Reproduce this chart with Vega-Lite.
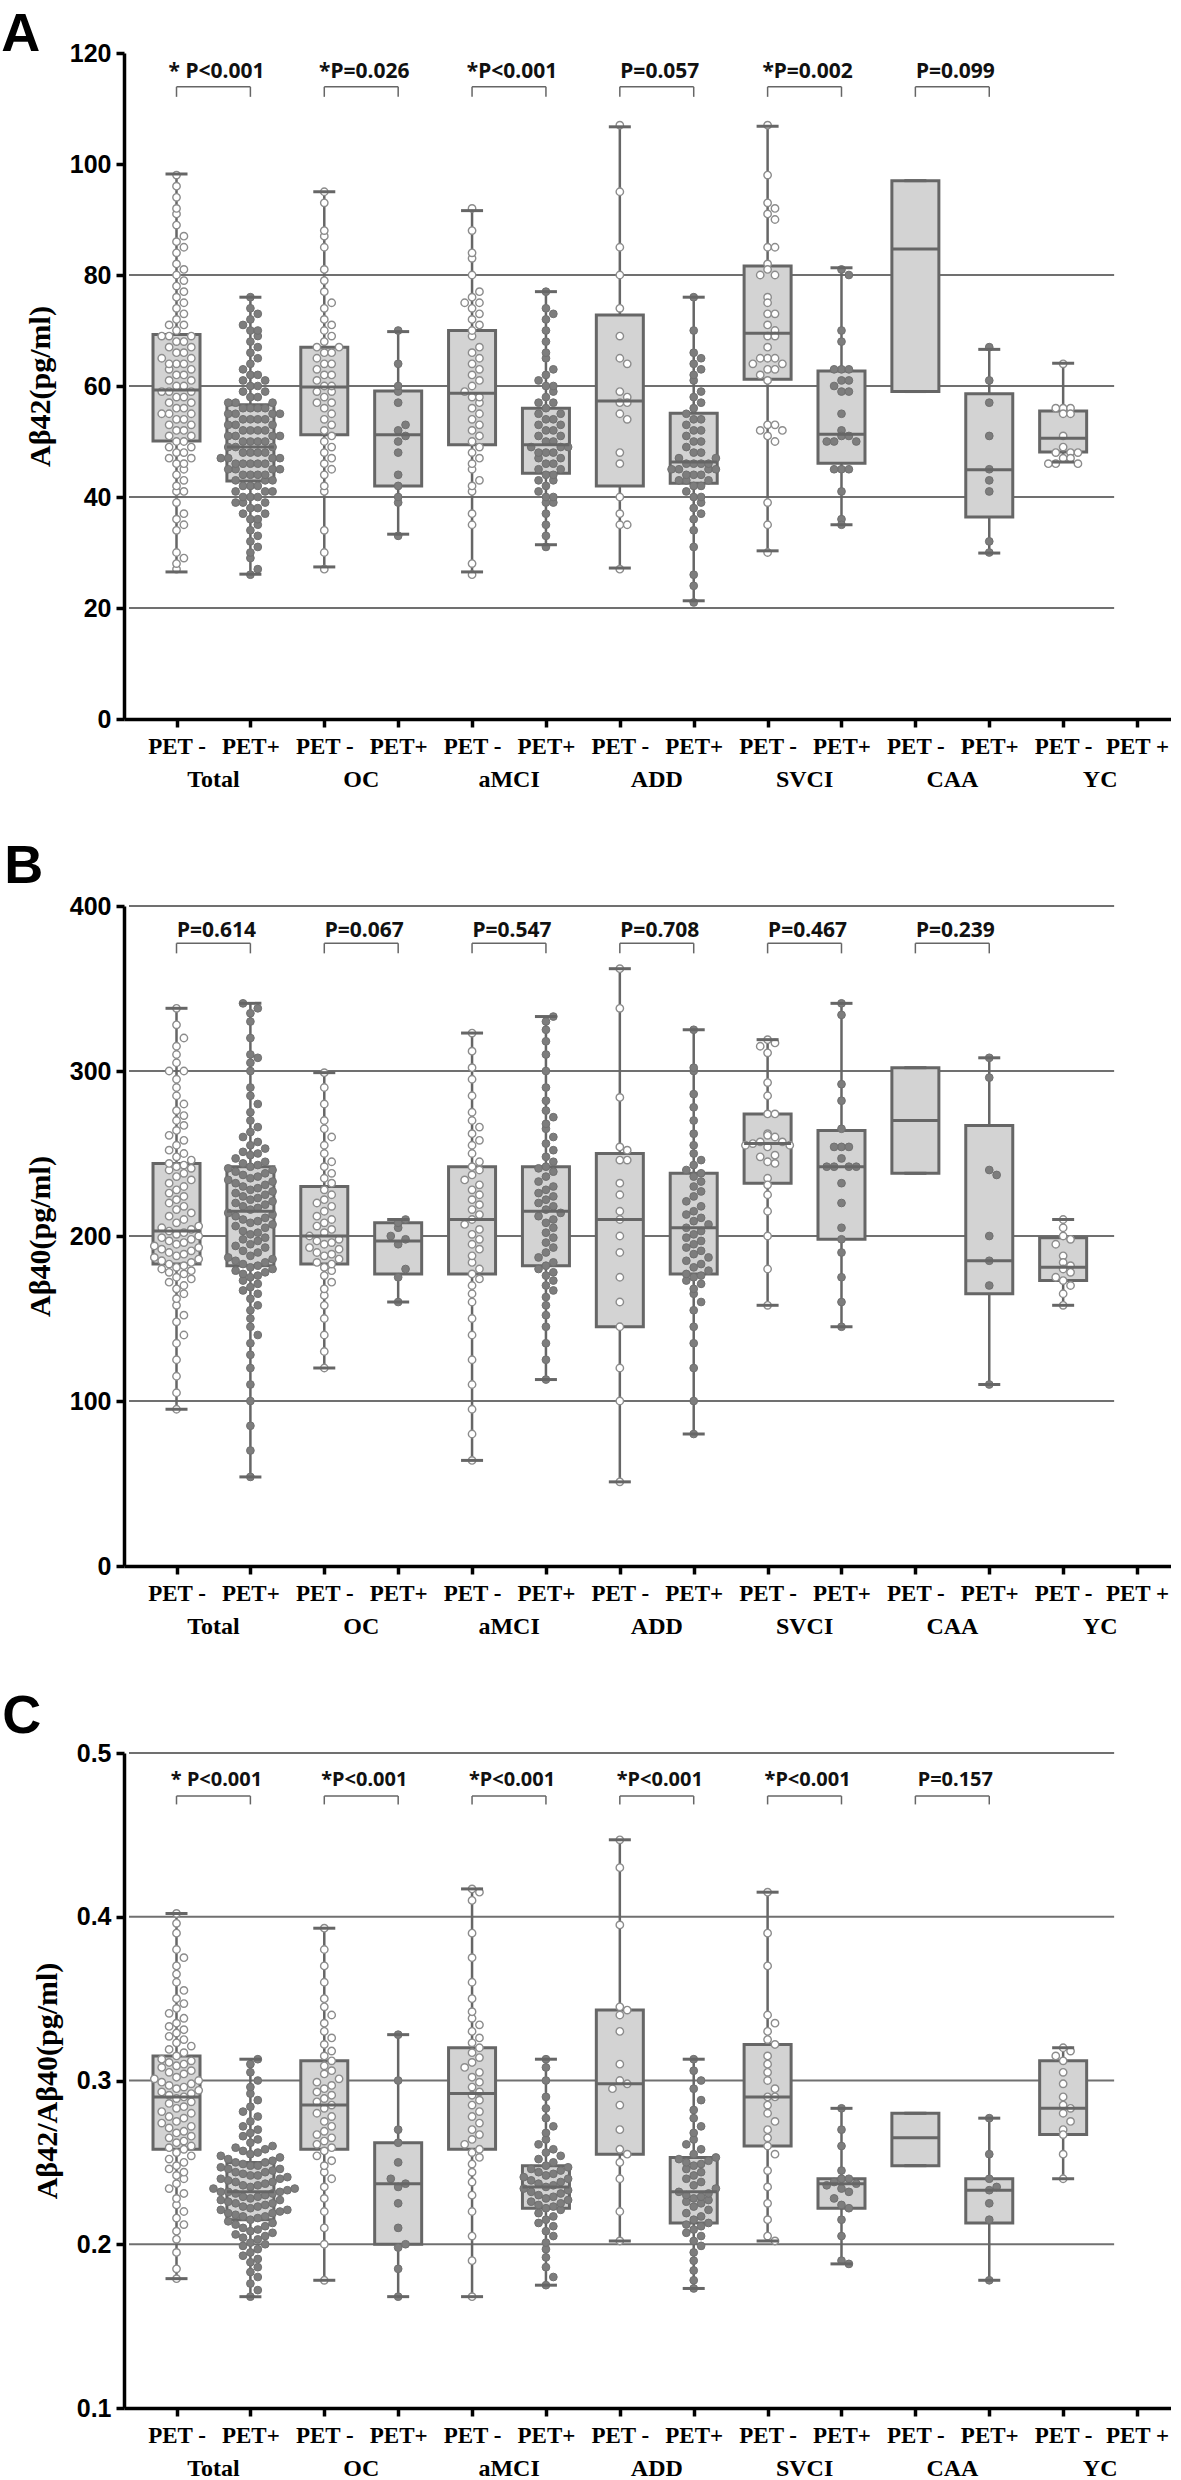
{
"$schema":"https://vega.github.io/schema/vega-lite/v6.json",
"background":"white",
"padding":{"left":1,"top":8,"right":0,"bottom":0},
"spacing":187,
"bounds":"flush",
"config":{
"view":{"stroke":null},
"axis":{"grid":false,"domainColor":"black","domainWidth":3.5,"tickColor":"black","tickWidth":3.5,"tickSize":8},
"axisX":{"labelFont":"Liberation Serif","labelFontSize":23,"labelFontWeight":"bold","labelPadding":8,"labelFlush":false,"labelOverlap":false,"labelColor":"black"},
"axisY":{"labelFont":"Liberation Sans","labelFontSize":25,"labelFontWeight":"bold","labelPadding":5,"titleFont":"Liberation Serif","titleFontSize":30,"titleFontWeight":"bold","titlePadding":14,"labelColor":"black","titleColor":"black"}
},
"datasets":{
"grp":[{"a":0,"g":"Total"},{"a":2,"g":"OC"},{"a":4,"g":"aMCI"},{"a":6,"g":"ADD"},{"a":8,"g":"SVCI"},{"a":10,"g":"CAA"},{"a":12,"g":"YC"}],
"nA":[{"a":0,"b":1,"t":"* P<0.001"},{"a":2,"b":3,"t":"*P=0.026"},{"a":4,"b":5,"t":"*P<0.001"},{"a":6,"b":7,"t":"P=0.057"},{"a":8,"b":9,"t":"*P=0.002"},{"a":10,"b":11,"t":"P=0.099"}],
"nB":[{"a":0,"b":1,"t":"P=0.614"},{"a":2,"b":3,"t":"P=0.067"},{"a":4,"b":5,"t":"P=0.547"},{"a":6,"b":7,"t":"P=0.708"},{"a":8,"b":9,"t":"P=0.467"},{"a":10,"b":11,"t":"P=0.239"}],
"nC":[{"a":0,"b":1,"t":"* P<0.001"},{"a":2,"b":3,"t":"*P<0.001"},{"a":4,"b":5,"t":"*P<0.001"},{"a":6,"b":7,"t":"*P<0.001"},{"a":8,"b":9,"t":"*P<0.001"},{"a":10,"b":11,"t":"P=0.157"}],
"bA":[{"c":0,"mn":26.5,"q1":50.1,"md":59.3,"q3":69.3,"mx":98.2},{"c":1,"mn":26.1,"q1":42.9,"md":49,"q3":56.6,"mx":76},{"c":2,"mn":27.4,"q1":51.2,"md":59.8,"q3":67,"mx":95},{"c":3,"mn":33.3,"q1":42,"md":51.2,"q3":59.1,"mx":69.8},{"c":4,"mn":26.5,"q1":49.4,"md":58.7,"q3":70,"mx":91.6},{"c":5,"mn":31.4,"q1":44.3,"md":49.4,"q3":56,"mx":77},{"c":6,"mn":27.2,"q1":42,"md":57.3,"q3":72.8,"mx":106.7},{"c":7,"mn":21.3,"q1":42.5,"md":46.3,"q3":55.1,"mx":76},{"c":8,"mn":30.3,"q1":61.2,"md":69.5,"q3":81.6,"mx":106.8},{"c":9,"mn":35,"q1":46.1,"md":51.3,"q3":62.7,"mx":81.3},{"c":10,"mn":59,"q1":59,"md":84.7,"q3":97,"mx":97},{"c":11,"mn":29.9,"q1":36.4,"md":44.9,"q3":58.6,"mx":66.6},{"c":12,"mn":46.3,"q1":48.1,"md":50.6,"q3":55.5,"mx":64.1}],
"bB":[{"c":0,"mn":95,"q1":183,"md":203,"q3":244,"mx":338},{"c":1,"mn":54,"q1":182,"md":215,"q3":242,"mx":341},{"c":2,"mn":120,"q1":183,"md":200,"q3":230,"mx":299},{"c":3,"mn":160,"q1":177,"md":197,"q3":208,"mx":210},{"c":4,"mn":64,"q1":177,"md":210,"q3":242,"mx":323},{"c":5,"mn":113,"q1":182,"md":215,"q3":242,"mx":333},{"c":6,"mn":51,"q1":145,"md":210,"q3":250,"mx":362},{"c":7,"mn":80,"q1":177,"md":205,"q3":238,"mx":325},{"c":8,"mn":158,"q1":232,"md":256,"q3":274,"mx":319},{"c":9,"mn":145,"q1":198,"md":242,"q3":264,"mx":341},{"c":10,"mn":238,"q1":238,"md":270,"q3":302,"mx":302},{"c":11,"mn":110,"q1":165,"md":185,"q3":267,"mx":308},{"c":12,"mn":158,"q1":173,"md":181,"q3":199,"mx":210}],
"bC":[{"c":0,"mn":0.179,"q1":0.258,"md":0.29,"q3":0.315,"mx":0.402},{"c":1,"mn":0.168,"q1":0.215,"md":0.232,"q3":0.25,"mx":0.313},{"c":2,"mn":0.178,"q1":0.258,"md":0.285,"q3":0.312,"mx":0.393},{"c":3,"mn":0.168,"q1":0.2,"md":0.237,"q3":0.262,"mx":0.328},{"c":4,"mn":0.168,"q1":0.258,"md":0.292,"q3":0.32,"mx":0.417},{"c":5,"mn":0.175,"q1":0.222,"md":0.235,"q3":0.248,"mx":0.313},{"c":6,"mn":0.202,"q1":0.255,"md":0.298,"q3":0.343,"mx":0.447},{"c":7,"mn":0.173,"q1":0.213,"md":0.232,"q3":0.253,"mx":0.313},{"c":8,"mn":0.202,"q1":0.26,"md":0.29,"q3":0.322,"mx":0.415},{"c":9,"mn":0.188,"q1":0.222,"md":0.237,"q3":0.24,"mx":0.283},{"c":10,"mn":0.248,"q1":0.248,"md":0.265,"q3":0.28,"mx":0.28},{"c":11,"mn":0.178,"q1":0.213,"md":0.233,"q3":0.24,"mx":0.277},{"c":12,"mn":0.24,"q1":0.267,"md":0.283,"q3":0.312,"mx":0.32}],
"pA":[
{"c":0,"v":27},{"c":0,"v":28},{"c":0,"v":29},{"c":0,"v":30},{"c":0,"v":34},{"c":0,"v":35},{"c":0,"v":36},{"c":0,"v":37},{"c":0,"v":39},{"c":0,"v":41},{"c":0,"v":41},{"c":0,"v":42},{"c":0,"v":43},{"c":0,"v":44},{"c":0,"v":45},{"c":0,"v":46},{"c":0,"v":46},{"c":0,"v":47},{"c":0,"v":47},{"c":0,"v":48},{"c":0,"v":48},{"c":0,"v":49},{"c":0,"v":49},{"c":0,"v":50},{"c":0,"v":50},{"c":0,"v":51},{"c":0,"v":51},{"c":0,"v":52},{"c":0,"v":52},{"c":0,"v":53},{"c":0,"v":53},{"c":0,"v":54},{"c":0,"v":54},{"c":0,"v":55},{"c":0,"v":55},{"c":0,"v":55},{"c":0,"v":56},{"c":0,"v":56},{"c":0,"v":57},{"c":0,"v":57},{"c":0,"v":58},{"c":0,"v":58},{"c":0,"v":59},{"c":0,"v":59},{"c":0,"v":59},{"c":0,"v":60},{"c":0,"v":60},{"c":0,"v":61},{"c":0,"v":61},{"c":0,"v":62},{"c":0,"v":62},{"c":0,"v":63},{"c":0,"v":63},{"c":0,"v":64},{"c":0,"v":64},{"c":0,"v":64},{"c":0,"v":65},{"c":0,"v":65},{"c":0,"v":66},{"c":0,"v":66},{"c":0,"v":67},{"c":0,"v":67},{"c":0,"v":68},{"c":0,"v":68},{"c":0,"v":69},{"c":0,"v":69},{"c":0,"v":69},{"c":0,"v":70},{"c":0,"v":71},{"c":0,"v":71},{"c":0,"v":72},{"c":0,"v":73},{"c":0,"v":74},{"c":0,"v":75},{"c":0,"v":76},{"c":0,"v":77},{"c":0,"v":78},{"c":0,"v":79},{"c":0,"v":80},{"c":0,"v":81},{"c":0,"v":82},{"c":0,"v":84},{"c":0,"v":85},{"c":0,"v":86},{"c":0,"v":87},{"c":0,"v":89},{"c":0,"v":91},{"c":0,"v":92},{"c":0,"v":94},{"c":0,"v":96},{"c":0,"v":98},
{"c":1,"v":26},{"c":1,"v":27},{"c":1,"v":29},{"c":1,"v":30},{"c":1,"v":31},{"c":1,"v":32},{"c":1,"v":33},{"c":1,"v":34},{"c":1,"v":35},{"c":1,"v":36},{"c":1,"v":36},{"c":1,"v":37},{"c":1,"v":37},{"c":1,"v":38},{"c":1,"v":38},{"c":1,"v":39},{"c":1,"v":39},{"c":1,"v":39},{"c":1,"v":40},{"c":1,"v":40},{"c":1,"v":40},{"c":1,"v":41},{"c":1,"v":41},{"c":1,"v":41},{"c":1,"v":42},{"c":1,"v":42},{"c":1,"v":42},{"c":1,"v":43},{"c":1,"v":43},{"c":1,"v":43},{"c":1,"v":44},{"c":1,"v":44},{"c":1,"v":44},{"c":1,"v":44},{"c":1,"v":45},{"c":1,"v":45},{"c":1,"v":45},{"c":1,"v":45},{"c":1,"v":46},{"c":1,"v":46},{"c":1,"v":46},{"c":1,"v":46},{"c":1,"v":46},{"c":1,"v":47},{"c":1,"v":47},{"c":1,"v":47},{"c":1,"v":47},{"c":1,"v":48},{"c":1,"v":48},{"c":1,"v":48},{"c":1,"v":48},{"c":1,"v":49},{"c":1,"v":49},{"c":1,"v":49},{"c":1,"v":50},{"c":1,"v":50},{"c":1,"v":50},{"c":1,"v":50},{"c":1,"v":51},{"c":1,"v":51},{"c":1,"v":51},{"c":1,"v":51},{"c":1,"v":52},{"c":1,"v":52},{"c":1,"v":52},{"c":1,"v":52},{"c":1,"v":53},{"c":1,"v":53},{"c":1,"v":53},{"c":1,"v":54},{"c":1,"v":54},{"c":1,"v":54},{"c":1,"v":54},{"c":1,"v":55},{"c":1,"v":55},{"c":1,"v":55},{"c":1,"v":55},{"c":1,"v":56},{"c":1,"v":56},{"c":1,"v":56},{"c":1,"v":56},{"c":1,"v":57},{"c":1,"v":57},{"c":1,"v":57},{"c":1,"v":58},{"c":1,"v":58},{"c":1,"v":59},{"c":1,"v":59},{"c":1,"v":60},{"c":1,"v":60},{"c":1,"v":61},{"c":1,"v":61},{"c":1,"v":62},{"c":1,"v":62},{"c":1,"v":63},{"c":1,"v":64},{"c":1,"v":65},{"c":1,"v":66},{"c":1,"v":67},{"c":1,"v":68},{"c":1,"v":69},{"c":1,"v":70},{"c":1,"v":70},{"c":1,"v":71},{"c":1,"v":72},{"c":1,"v":73},{"c":1,"v":74},{"c":1,"v":76},
{"c":2,"v":27},{"c":2,"v":30},{"c":2,"v":34},{"c":2,"v":41},{"c":2,"v":42},{"c":2,"v":44},{"c":2,"v":45},{"c":2,"v":46},{"c":2,"v":47},{"c":2,"v":48},{"c":2,"v":49},{"c":2,"v":50},{"c":2,"v":51},{"c":2,"v":52},{"c":2,"v":53},{"c":2,"v":54},{"c":2,"v":55},{"c":2,"v":56},{"c":2,"v":57},{"c":2,"v":57},{"c":2,"v":58},{"c":2,"v":59},{"c":2,"v":59},{"c":2,"v":60},{"c":2,"v":60},{"c":2,"v":61},{"c":2,"v":62},{"c":2,"v":62},{"c":2,"v":63},{"c":2,"v":64},{"c":2,"v":64},{"c":2,"v":65},{"c":2,"v":66},{"c":2,"v":66},{"c":2,"v":67},{"c":2,"v":67},{"c":2,"v":68},{"c":2,"v":69},{"c":2,"v":70},{"c":2,"v":71},{"c":2,"v":72},{"c":2,"v":74},{"c":2,"v":75},{"c":2,"v":77},{"c":2,"v":79},{"c":2,"v":81},{"c":2,"v":85},{"c":2,"v":87},{"c":2,"v":88},{"c":2,"v":93},{"c":2,"v":95},
{"c":3,"v":33},{"c":3,"v":39},{"c":3,"v":40},{"c":3,"v":42},{"c":3,"v":44},{"c":3,"v":48},{"c":3,"v":50},{"c":3,"v":51},{"c":3,"v":52},{"c":3,"v":53},{"c":3,"v":57},{"c":3,"v":59},{"c":3,"v":60},{"c":3,"v":64},{"c":3,"v":70},
{"c":4,"v":26},{"c":4,"v":28},{"c":4,"v":35},{"c":4,"v":37},{"c":4,"v":41},{"c":4,"v":42},{"c":4,"v":43},{"c":4,"v":45},{"c":4,"v":46},{"c":4,"v":47},{"c":4,"v":48},{"c":4,"v":49},{"c":4,"v":50},{"c":4,"v":51},{"c":4,"v":52},{"c":4,"v":53},{"c":4,"v":54},{"c":4,"v":55},{"c":4,"v":56},{"c":4,"v":57},{"c":4,"v":58},{"c":4,"v":58},{"c":4,"v":59},{"c":4,"v":60},{"c":4,"v":61},{"c":4,"v":62},{"c":4,"v":63},{"c":4,"v":64},{"c":4,"v":65},{"c":4,"v":66},{"c":4,"v":67},{"c":4,"v":69},{"c":4,"v":70},{"c":4,"v":71},{"c":4,"v":72},{"c":4,"v":73},{"c":4,"v":74},{"c":4,"v":75},{"c":4,"v":75},{"c":4,"v":76},{"c":4,"v":77},{"c":4,"v":80},{"c":4,"v":83},{"c":4,"v":84},{"c":4,"v":88},{"c":4,"v":92},
{"c":5,"v":31},{"c":5,"v":33},{"c":5,"v":35},{"c":5,"v":37},{"c":5,"v":39},{"c":5,"v":39},{"c":5,"v":40},{"c":5,"v":40},{"c":5,"v":41},{"c":5,"v":42},{"c":5,"v":43},{"c":5,"v":43},{"c":5,"v":44},{"c":5,"v":44},{"c":5,"v":45},{"c":5,"v":45},{"c":5,"v":46},{"c":5,"v":46},{"c":5,"v":47},{"c":5,"v":47},{"c":5,"v":48},{"c":5,"v":48},{"c":5,"v":48},{"c":5,"v":49},{"c":5,"v":49},{"c":5,"v":49},{"c":5,"v":50},{"c":5,"v":50},{"c":5,"v":51},{"c":5,"v":51},{"c":5,"v":52},{"c":5,"v":52},{"c":5,"v":53},{"c":5,"v":53},{"c":5,"v":54},{"c":5,"v":54},{"c":5,"v":55},{"c":5,"v":55},{"c":5,"v":56},{"c":5,"v":57},{"c":5,"v":57},{"c":5,"v":58},{"c":5,"v":59},{"c":5,"v":60},{"c":5,"v":60},{"c":5,"v":61},{"c":5,"v":62},{"c":5,"v":63},{"c":5,"v":65},{"c":5,"v":66},{"c":5,"v":68},{"c":5,"v":70},{"c":5,"v":72},{"c":5,"v":73},{"c":5,"v":74},{"c":5,"v":77},
{"c":6,"v":107},{"c":6,"v":95},{"c":6,"v":85},{"c":6,"v":80},{"c":6,"v":74},{"c":6,"v":69},{"c":6,"v":65},{"c":6,"v":64},{"c":6,"v":59},{"c":6,"v":58},{"c":6,"v":57},{"c":6,"v":57},{"c":6,"v":55},{"c":6,"v":54},{"c":6,"v":48},{"c":6,"v":46},{"c":6,"v":40},{"c":6,"v":37},{"c":6,"v":35},{"c":6,"v":35},{"c":6,"v":27},
{"c":7,"v":21},{"c":7,"v":24},{"c":7,"v":26},{"c":7,"v":31},{"c":7,"v":34},{"c":7,"v":36},{"c":7,"v":37},{"c":7,"v":38},{"c":7,"v":39},{"c":7,"v":40},{"c":7,"v":40},{"c":7,"v":41},{"c":7,"v":42},{"c":7,"v":42},{"c":7,"v":43},{"c":7,"v":43},{"c":7,"v":43},{"c":7,"v":44},{"c":7,"v":44},{"c":7,"v":44},{"c":7,"v":45},{"c":7,"v":45},{"c":7,"v":45},{"c":7,"v":45},{"c":7,"v":46},{"c":7,"v":46},{"c":7,"v":46},{"c":7,"v":46},{"c":7,"v":47},{"c":7,"v":47},{"c":7,"v":48},{"c":7,"v":48},{"c":7,"v":49},{"c":7,"v":50},{"c":7,"v":50},{"c":7,"v":51},{"c":7,"v":52},{"c":7,"v":52},{"c":7,"v":53},{"c":7,"v":54},{"c":7,"v":54},{"c":7,"v":55},{"c":7,"v":56},{"c":7,"v":57},{"c":7,"v":58},{"c":7,"v":59},{"c":7,"v":61},{"c":7,"v":62},{"c":7,"v":63},{"c":7,"v":64},{"c":7,"v":65},{"c":7,"v":66},{"c":7,"v":70},{"c":7,"v":76},
{"c":8,"v":107},{"c":8,"v":98},{"c":8,"v":93},{"c":8,"v":92},{"c":8,"v":91},{"c":8,"v":90},{"c":8,"v":85},{"c":8,"v":85},{"c":8,"v":82},{"c":8,"v":81},{"c":8,"v":80},{"c":8,"v":80},{"c":8,"v":76},{"c":8,"v":75},{"c":8,"v":73},{"c":8,"v":73},{"c":8,"v":71},{"c":8,"v":70},{"c":8,"v":69},{"c":8,"v":69},{"c":8,"v":67},{"c":8,"v":65},{"c":8,"v":65},{"c":8,"v":65},{"c":8,"v":64},{"c":8,"v":64},{"c":8,"v":63},{"c":8,"v":63},{"c":8,"v":62},{"c":8,"v":61},{"c":8,"v":53},{"c":8,"v":53},{"c":8,"v":52},{"c":8,"v":52},{"c":8,"v":51},{"c":8,"v":50},{"c":8,"v":39},{"c":8,"v":35},{"c":8,"v":30},
{"c":9,"v":81},{"c":9,"v":80},{"c":9,"v":70},{"c":9,"v":68},{"c":9,"v":63},{"c":9,"v":63},{"c":9,"v":63},{"c":9,"v":61},{"c":9,"v":61},{"c":9,"v":60},{"c":9,"v":59},{"c":9,"v":59},{"c":9,"v":55},{"c":9,"v":52},{"c":9,"v":51},{"c":9,"v":51},{"c":9,"v":50},{"c":9,"v":50},{"c":9,"v":50},{"c":9,"v":45},{"c":9,"v":45},{"c":9,"v":45},{"c":9,"v":41},{"c":9,"v":36},{"c":9,"v":35},
{"c":11,"v":67},{"c":11,"v":61},{"c":11,"v":57},{"c":11,"v":51},{"c":11,"v":45},{"c":11,"v":43},{"c":11,"v":41},{"c":11,"v":32},{"c":11,"v":30},
{"c":12,"v":64},{"c":12,"v":56},{"c":12,"v":56},{"c":12,"v":56},{"c":12,"v":55},{"c":12,"v":55},{"c":12,"v":51},{"c":12,"v":49},{"c":12,"v":48},{"c":12,"v":48},{"c":12,"v":48},{"c":12,"v":47},{"c":12,"v":47},{"c":12,"v":46},{"c":12,"v":46},{"c":12,"v":46}
],
"pB":[
{"c":0,"v":95},{"c":0,"v":105},{"c":0,"v":115},{"c":0,"v":125},{"c":0,"v":135},{"c":0,"v":140},{"c":0,"v":148},{"c":0,"v":152},{"c":0,"v":158},{"c":0,"v":162},{"c":0,"v":165},{"c":0,"v":168},{"c":0,"v":170},{"c":0,"v":172},{"c":0,"v":174},{"c":0,"v":175},{"c":0,"v":177},{"c":0,"v":178},{"c":0,"v":179},{"c":0,"v":180},{"c":0,"v":181},{"c":0,"v":182},{"c":0,"v":183},{"c":0,"v":184},{"c":0,"v":185},{"c":0,"v":186},{"c":0,"v":187},{"c":0,"v":188},{"c":0,"v":189},{"c":0,"v":190},{"c":0,"v":191},{"c":0,"v":192},{"c":0,"v":193},{"c":0,"v":194},{"c":0,"v":195},{"c":0,"v":196},{"c":0,"v":197},{"c":0,"v":198},{"c":0,"v":199},{"c":0,"v":200},{"c":0,"v":201},{"c":0,"v":202},{"c":0,"v":203},{"c":0,"v":204},{"c":0,"v":205},{"c":0,"v":206},{"c":0,"v":208},{"c":0,"v":210},{"c":0,"v":212},{"c":0,"v":214},{"c":0,"v":216},{"c":0,"v":218},{"c":0,"v":220},{"c":0,"v":222},{"c":0,"v":224},{"c":0,"v":226},{"c":0,"v":228},{"c":0,"v":230},{"c":0,"v":232},{"c":0,"v":234},{"c":0,"v":236},{"c":0,"v":238},{"c":0,"v":240},{"c":0,"v":241},{"c":0,"v":242},{"c":0,"v":243},{"c":0,"v":244},{"c":0,"v":246},{"c":0,"v":248},{"c":0,"v":250},{"c":0,"v":252},{"c":0,"v":255},{"c":0,"v":258},{"c":0,"v":261},{"c":0,"v":264},{"c":0,"v":267},{"c":0,"v":270},{"c":0,"v":273},{"c":0,"v":276},{"c":0,"v":280},{"c":0,"v":285},{"c":0,"v":290},{"c":0,"v":295},{"c":0,"v":300},{"c":0,"v":300},{"c":0,"v":305},{"c":0,"v":310},{"c":0,"v":315},{"c":0,"v":320},{"c":0,"v":328},{"c":0,"v":338},
{"c":1,"v":54},{"c":1,"v":70},{"c":1,"v":85},{"c":1,"v":100},{"c":1,"v":110},{"c":1,"v":120},{"c":1,"v":128},{"c":1,"v":135},{"c":1,"v":140},{"c":1,"v":145},{"c":1,"v":150},{"c":1,"v":155},{"c":1,"v":158},{"c":1,"v":162},{"c":1,"v":165},{"c":1,"v":167},{"c":1,"v":169},{"c":1,"v":171},{"c":1,"v":173},{"c":1,"v":175},{"c":1,"v":176},{"c":1,"v":177},{"c":1,"v":178},{"c":1,"v":179},{"c":1,"v":180},{"c":1,"v":181},{"c":1,"v":182},{"c":1,"v":183},{"c":1,"v":184},{"c":1,"v":185},{"c":1,"v":186},{"c":1,"v":187},{"c":1,"v":188},{"c":1,"v":190},{"c":1,"v":191},{"c":1,"v":193},{"c":1,"v":194},{"c":1,"v":195},{"c":1,"v":197},{"c":1,"v":198},{"c":1,"v":199},{"c":1,"v":201},{"c":1,"v":202},{"c":1,"v":203},{"c":1,"v":205},{"c":1,"v":206},{"c":1,"v":207},{"c":1,"v":208},{"c":1,"v":209},{"c":1,"v":210},{"c":1,"v":211},{"c":1,"v":212},{"c":1,"v":213},{"c":1,"v":214},{"c":1,"v":216},{"c":1,"v":217},{"c":1,"v":218},{"c":1,"v":219},{"c":1,"v":220},{"c":1,"v":221},{"c":1,"v":222},{"c":1,"v":223},{"c":1,"v":224},{"c":1,"v":225},{"c":1,"v":226},{"c":1,"v":227},{"c":1,"v":228},{"c":1,"v":229},{"c":1,"v":230},{"c":1,"v":231},{"c":1,"v":232},{"c":1,"v":233},{"c":1,"v":234},{"c":1,"v":235},{"c":1,"v":236},{"c":1,"v":237},{"c":1,"v":238},{"c":1,"v":239},{"c":1,"v":240},{"c":1,"v":241},{"c":1,"v":242},{"c":1,"v":243},{"c":1,"v":244},{"c":1,"v":245},{"c":1,"v":247},{"c":1,"v":249},{"c":1,"v":250},{"c":1,"v":251},{"c":1,"v":253},{"c":1,"v":255},{"c":1,"v":257},{"c":1,"v":260},{"c":1,"v":263},{"c":1,"v":266},{"c":1,"v":270},{"c":1,"v":275},{"c":1,"v":280},{"c":1,"v":285},{"c":1,"v":290},{"c":1,"v":300},{"c":1,"v":305},{"c":1,"v":308},{"c":1,"v":310},{"c":1,"v":320},{"c":1,"v":330},{"c":1,"v":335},{"c":1,"v":338},{"c":1,"v":341},
{"c":2,"v":120},{"c":2,"v":130},{"c":2,"v":140},{"c":2,"v":150},{"c":2,"v":158},{"c":2,"v":164},{"c":2,"v":168},{"c":2,"v":172},{"c":2,"v":176},{"c":2,"v":179},{"c":2,"v":181},{"c":2,"v":183},{"c":2,"v":184},{"c":2,"v":186},{"c":2,"v":188},{"c":2,"v":189},{"c":2,"v":190},{"c":2,"v":192},{"c":2,"v":193},{"c":2,"v":195},{"c":2,"v":196},{"c":2,"v":197},{"c":2,"v":198},{"c":2,"v":200},{"c":2,"v":202},{"c":2,"v":204},{"c":2,"v":206},{"c":2,"v":208},{"c":2,"v":210},{"c":2,"v":212},{"c":2,"v":215},{"c":2,"v":218},{"c":2,"v":220},{"c":2,"v":222},{"c":2,"v":225},{"c":2,"v":228},{"c":2,"v":232},{"c":2,"v":235},{"c":2,"v":238},{"c":2,"v":242},{"c":2,"v":245},{"c":2,"v":250},{"c":2,"v":255},{"c":2,"v":260},{"c":2,"v":265},{"c":2,"v":270},{"c":2,"v":280},{"c":2,"v":290},{"c":2,"v":299},
{"c":3,"v":160},{"c":3,"v":175},{"c":3,"v":180},{"c":3,"v":195},{"c":3,"v":198},{"c":3,"v":200},{"c":3,"v":205},{"c":3,"v":208},{"c":3,"v":210},
{"c":4,"v":64},{"c":4,"v":80},{"c":4,"v":95},{"c":4,"v":110},{"c":4,"v":125},{"c":4,"v":140},{"c":4,"v":150},{"c":4,"v":160},{"c":4,"v":165},{"c":4,"v":170},{"c":4,"v":174},{"c":4,"v":177},{"c":4,"v":180},{"c":4,"v":184},{"c":4,"v":188},{"c":4,"v":192},{"c":4,"v":195},{"c":4,"v":198},{"c":4,"v":201},{"c":4,"v":204},{"c":4,"v":207},{"c":4,"v":210},{"c":4,"v":213},{"c":4,"v":216},{"c":4,"v":219},{"c":4,"v":222},{"c":4,"v":225},{"c":4,"v":228},{"c":4,"v":231},{"c":4,"v":234},{"c":4,"v":237},{"c":4,"v":240},{"c":4,"v":242},{"c":4,"v":245},{"c":4,"v":250},{"c":4,"v":255},{"c":4,"v":258},{"c":4,"v":262},{"c":4,"v":266},{"c":4,"v":270},{"c":4,"v":275},{"c":4,"v":285},{"c":4,"v":295},{"c":4,"v":302},{"c":4,"v":312},{"c":4,"v":323},
{"c":5,"v":113},{"c":5,"v":125},{"c":5,"v":135},{"c":5,"v":145},{"c":5,"v":152},{"c":5,"v":158},{"c":5,"v":163},{"c":5,"v":167},{"c":5,"v":170},{"c":5,"v":173},{"c":5,"v":176},{"c":5,"v":178},{"c":5,"v":180},{"c":5,"v":182},{"c":5,"v":184},{"c":5,"v":187},{"c":5,"v":190},{"c":5,"v":193},{"c":5,"v":196},{"c":5,"v":199},{"c":5,"v":202},{"c":5,"v":205},{"c":5,"v":208},{"c":5,"v":210},{"c":5,"v":212},{"c":5,"v":214},{"c":5,"v":216},{"c":5,"v":218},{"c":5,"v":220},{"c":5,"v":222},{"c":5,"v":224},{"c":5,"v":226},{"c":5,"v":228},{"c":5,"v":230},{"c":5,"v":233},{"c":5,"v":236},{"c":5,"v":239},{"c":5,"v":241},{"c":5,"v":242},{"c":5,"v":245},{"c":5,"v":248},{"c":5,"v":252},{"c":5,"v":256},{"c":5,"v":260},{"c":5,"v":265},{"c":5,"v":268},{"c":5,"v":272},{"c":5,"v":276},{"c":5,"v":282},{"c":5,"v":290},{"c":5,"v":300},{"c":5,"v":310},{"c":5,"v":318},{"c":5,"v":325},{"c":5,"v":330},{"c":5,"v":333},
{"c":6,"v":362},{"c":6,"v":338},{"c":6,"v":284},{"c":6,"v":254},{"c":6,"v":252},{"c":6,"v":246},{"c":6,"v":246},{"c":6,"v":232},{"c":6,"v":225},{"c":6,"v":215},{"c":6,"v":210},{"c":6,"v":200},{"c":6,"v":190},{"c":6,"v":175},{"c":6,"v":160},{"c":6,"v":145},{"c":6,"v":120},{"c":6,"v":100},{"c":6,"v":51},
{"c":7,"v":80},{"c":7,"v":100},{"c":7,"v":120},{"c":7,"v":135},{"c":7,"v":145},{"c":7,"v":155},{"c":7,"v":160},{"c":7,"v":165},{"c":7,"v":168},{"c":7,"v":171},{"c":7,"v":173},{"c":7,"v":175},{"c":7,"v":176},{"c":7,"v":177},{"c":7,"v":179},{"c":7,"v":181},{"c":7,"v":183},{"c":7,"v":185},{"c":7,"v":187},{"c":7,"v":189},{"c":7,"v":191},{"c":7,"v":193},{"c":7,"v":195},{"c":7,"v":197},{"c":7,"v":199},{"c":7,"v":201},{"c":7,"v":203},{"c":7,"v":205},{"c":7,"v":207},{"c":7,"v":209},{"c":7,"v":211},{"c":7,"v":213},{"c":7,"v":215},{"c":7,"v":218},{"c":7,"v":221},{"c":7,"v":224},{"c":7,"v":227},{"c":7,"v":230},{"c":7,"v":233},{"c":7,"v":236},{"c":7,"v":238},{"c":7,"v":240},{"c":7,"v":243},{"c":7,"v":246},{"c":7,"v":250},{"c":7,"v":255},{"c":7,"v":262},{"c":7,"v":270},{"c":7,"v":278},{"c":7,"v":286},{"c":7,"v":300},{"c":7,"v":302},{"c":7,"v":325},
{"c":8,"v":319},{"c":8,"v":317},{"c":8,"v":315},{"c":8,"v":311},{"c":8,"v":293},{"c":8,"v":285},{"c":8,"v":274},{"c":8,"v":274},{"c":8,"v":262},{"c":8,"v":261},{"c":8,"v":260},{"c":8,"v":257},{"c":8,"v":257},{"c":8,"v":256},{"c":8,"v":255},{"c":8,"v":255},{"c":8,"v":254},{"c":8,"v":249},{"c":8,"v":248},{"c":8,"v":245},{"c":8,"v":244},{"c":8,"v":235},{"c":8,"v":231},{"c":8,"v":225},{"c":8,"v":215},{"c":8,"v":200},{"c":8,"v":180},{"c":8,"v":158},
{"c":9,"v":341},{"c":9,"v":334},{"c":9,"v":292},{"c":9,"v":282},{"c":9,"v":265},{"c":9,"v":254},{"c":9,"v":254},{"c":9,"v":254},{"c":9,"v":247},{"c":9,"v":242},{"c":9,"v":242},{"c":9,"v":242},{"c":9,"v":242},{"c":9,"v":232},{"c":9,"v":220},{"c":9,"v":205},{"c":9,"v":198},{"c":9,"v":190},{"c":9,"v":175},{"c":9,"v":160},{"c":9,"v":145},
{"c":11,"v":308},{"c":11,"v":296},{"c":11,"v":240},{"c":11,"v":237},{"c":11,"v":200},{"c":11,"v":185},{"c":11,"v":170},{"c":11,"v":110},
{"c":12,"v":210},{"c":12,"v":205},{"c":12,"v":200},{"c":12,"v":198},{"c":12,"v":195},{"c":12,"v":188},{"c":12,"v":184},{"c":12,"v":182},{"c":12,"v":180},{"c":12,"v":178},{"c":12,"v":175},{"c":12,"v":173},{"c":12,"v":170},{"c":12,"v":165},{"c":12,"v":158}
],
"pC":[
{"c":0,"v":0.179},{"c":0,"v":0.185},{"c":0,"v":0.195},{"c":0,"v":0.203},{"c":0,"v":0.208},{"c":0,"v":0.212},{"c":0,"v":0.216},{"c":0,"v":0.22},{"c":0,"v":0.224},{"c":0,"v":0.228},{"c":0,"v":0.231},{"c":0,"v":0.234},{"c":0,"v":0.237},{"c":0,"v":0.24},{"c":0,"v":0.242},{"c":0,"v":0.244},{"c":0,"v":0.246},{"c":0,"v":0.248},{"c":0,"v":0.25},{"c":0,"v":0.252},{"c":0,"v":0.254},{"c":0,"v":0.256},{"c":0,"v":0.258},{"c":0,"v":0.259},{"c":0,"v":0.26},{"c":0,"v":0.262},{"c":0,"v":0.263},{"c":0,"v":0.265},{"c":0,"v":0.266},{"c":0,"v":0.268},{"c":0,"v":0.269},{"c":0,"v":0.271},{"c":0,"v":0.272},{"c":0,"v":0.274},{"c":0,"v":0.275},{"c":0,"v":0.277},{"c":0,"v":0.278},{"c":0,"v":0.28},{"c":0,"v":0.281},{"c":0,"v":0.283},{"c":0,"v":0.284},{"c":0,"v":0.286},{"c":0,"v":0.287},{"c":0,"v":0.289},{"c":0,"v":0.29},{"c":0,"v":0.291},{"c":0,"v":0.292},{"c":0,"v":0.293},{"c":0,"v":0.294},{"c":0,"v":0.295},{"c":0,"v":0.296},{"c":0,"v":0.297},{"c":0,"v":0.298},{"c":0,"v":0.299},{"c":0,"v":0.3},{"c":0,"v":0.301},{"c":0,"v":0.302},{"c":0,"v":0.304},{"c":0,"v":0.305},{"c":0,"v":0.306},{"c":0,"v":0.308},{"c":0,"v":0.309},{"c":0,"v":0.31},{"c":0,"v":0.311},{"c":0,"v":0.312},{"c":0,"v":0.313},{"c":0,"v":0.315},{"c":0,"v":0.317},{"c":0,"v":0.319},{"c":0,"v":0.321},{"c":0,"v":0.323},{"c":0,"v":0.325},{"c":0,"v":0.327},{"c":0,"v":0.329},{"c":0,"v":0.331},{"c":0,"v":0.333},{"c":0,"v":0.335},{"c":0,"v":0.338},{"c":0,"v":0.341},{"c":0,"v":0.344},{"c":0,"v":0.347},{"c":0,"v":0.35},{"c":0,"v":0.355},{"c":0,"v":0.36},{"c":0,"v":0.365},{"c":0,"v":0.37},{"c":0,"v":0.375},{"c":0,"v":0.38},{"c":0,"v":0.39},{"c":0,"v":0.396},{"c":0,"v":0.402},
{"c":1,"v":0.168},{"c":1,"v":0.172},{"c":1,"v":0.176},{"c":1,"v":0.18},{"c":1,"v":0.183},{"c":1,"v":0.186},{"c":1,"v":0.189},{"c":1,"v":0.191},{"c":1,"v":0.193},{"c":1,"v":0.195},{"c":1,"v":0.197},{"c":1,"v":0.199},{"c":1,"v":0.2},{"c":1,"v":0.201},{"c":1,"v":0.203},{"c":1,"v":0.204},{"c":1,"v":0.205},{"c":1,"v":0.206},{"c":1,"v":0.207},{"c":1,"v":0.208},{"c":1,"v":0.209},{"c":1,"v":0.21},{"c":1,"v":0.211},{"c":1,"v":0.212},{"c":1,"v":0.213},{"c":1,"v":0.214},{"c":1,"v":0.215},{"c":1,"v":0.216},{"c":1,"v":0.217},{"c":1,"v":0.217},{"c":1,"v":0.218},{"c":1,"v":0.219},{"c":1,"v":0.219},{"c":1,"v":0.22},{"c":1,"v":0.221},{"c":1,"v":0.221},{"c":1,"v":0.222},{"c":1,"v":0.223},{"c":1,"v":0.223},{"c":1,"v":0.224},{"c":1,"v":0.225},{"c":1,"v":0.225},{"c":1,"v":0.226},{"c":1,"v":0.227},{"c":1,"v":0.227},{"c":1,"v":0.228},{"c":1,"v":0.229},{"c":1,"v":0.229},{"c":1,"v":0.23},{"c":1,"v":0.231},{"c":1,"v":0.231},{"c":1,"v":0.232},{"c":1,"v":0.232},{"c":1,"v":0.232},{"c":1,"v":0.233},{"c":1,"v":0.234},{"c":1,"v":0.234},{"c":1,"v":0.235},{"c":1,"v":0.236},{"c":1,"v":0.236},{"c":1,"v":0.237},{"c":1,"v":0.238},{"c":1,"v":0.238},{"c":1,"v":0.239},{"c":1,"v":0.24},{"c":1,"v":0.24},{"c":1,"v":0.241},{"c":1,"v":0.242},{"c":1,"v":0.242},{"c":1,"v":0.243},{"c":1,"v":0.244},{"c":1,"v":0.244},{"c":1,"v":0.245},{"c":1,"v":0.246},{"c":1,"v":0.246},{"c":1,"v":0.247},{"c":1,"v":0.248},{"c":1,"v":0.248},{"c":1,"v":0.249},{"c":1,"v":0.25},{"c":1,"v":0.25},{"c":1,"v":0.251},{"c":1,"v":0.252},{"c":1,"v":0.253},{"c":1,"v":0.254},{"c":1,"v":0.255},{"c":1,"v":0.256},{"c":1,"v":0.257},{"c":1,"v":0.258},{"c":1,"v":0.259},{"c":1,"v":0.26},{"c":1,"v":0.262},{"c":1,"v":0.264},{"c":1,"v":0.266},{"c":1,"v":0.268},{"c":1,"v":0.27},{"c":1,"v":0.272},{"c":1,"v":0.275},{"c":1,"v":0.278},{"c":1,"v":0.281},{"c":1,"v":0.284},{"c":1,"v":0.288},{"c":1,"v":0.292},{"c":1,"v":0.296},{"c":1,"v":0.3},{"c":1,"v":0.305},{"c":1,"v":0.31},{"c":1,"v":0.313},
{"c":2,"v":0.178},{"c":2,"v":0.2},{"c":2,"v":0.21},{"c":2,"v":0.22},{"c":2,"v":0.228},{"c":2,"v":0.235},{"c":2,"v":0.24},{"c":2,"v":0.244},{"c":2,"v":0.248},{"c":2,"v":0.251},{"c":2,"v":0.254},{"c":2,"v":0.257},{"c":2,"v":0.259},{"c":2,"v":0.261},{"c":2,"v":0.263},{"c":2,"v":0.265},{"c":2,"v":0.267},{"c":2,"v":0.269},{"c":2,"v":0.272},{"c":2,"v":0.275},{"c":2,"v":0.278},{"c":2,"v":0.28},{"c":2,"v":0.283},{"c":2,"v":0.285},{"c":2,"v":0.287},{"c":2,"v":0.289},{"c":2,"v":0.291},{"c":2,"v":0.293},{"c":2,"v":0.295},{"c":2,"v":0.297},{"c":2,"v":0.299},{"c":2,"v":0.301},{"c":2,"v":0.304},{"c":2,"v":0.306},{"c":2,"v":0.309},{"c":2,"v":0.312},{"c":2,"v":0.315},{"c":2,"v":0.318},{"c":2,"v":0.322},{"c":2,"v":0.326},{"c":2,"v":0.33},{"c":2,"v":0.335},{"c":2,"v":0.34},{"c":2,"v":0.345},{"c":2,"v":0.35},{"c":2,"v":0.36},{"c":2,"v":0.37},{"c":2,"v":0.38},{"c":2,"v":0.393},
{"c":3,"v":0.168},{"c":3,"v":0.185},{"c":3,"v":0.198},{"c":3,"v":0.2},{"c":3,"v":0.21},{"c":3,"v":0.225},{"c":3,"v":0.235},{"c":3,"v":0.237},{"c":3,"v":0.24},{"c":3,"v":0.25},{"c":3,"v":0.262},{"c":3,"v":0.27},{"c":3,"v":0.3},{"c":3,"v":0.328},
{"c":4,"v":0.168},{"c":4,"v":0.19},{"c":4,"v":0.205},{"c":4,"v":0.22},{"c":4,"v":0.23},{"c":4,"v":0.238},{"c":4,"v":0.244},{"c":4,"v":0.249},{"c":4,"v":0.253},{"c":4,"v":0.256},{"c":4,"v":0.258},{"c":4,"v":0.261},{"c":4,"v":0.264},{"c":4,"v":0.267},{"c":4,"v":0.27},{"c":4,"v":0.274},{"c":4,"v":0.278},{"c":4,"v":0.281},{"c":4,"v":0.285},{"c":4,"v":0.288},{"c":4,"v":0.291},{"c":4,"v":0.293},{"c":4,"v":0.296},{"c":4,"v":0.299},{"c":4,"v":0.302},{"c":4,"v":0.305},{"c":4,"v":0.308},{"c":4,"v":0.311},{"c":4,"v":0.314},{"c":4,"v":0.317},{"c":4,"v":0.32},{"c":4,"v":0.323},{"c":4,"v":0.326},{"c":4,"v":0.33},{"c":4,"v":0.334},{"c":4,"v":0.338},{"c":4,"v":0.342},{"c":4,"v":0.35},{"c":4,"v":0.36},{"c":4,"v":0.375},{"c":4,"v":0.39},{"c":4,"v":0.41},{"c":4,"v":0.415},{"c":4,"v":0.417},
{"c":5,"v":0.175},{"c":5,"v":0.18},{"c":5,"v":0.186},{"c":5,"v":0.192},{"c":5,"v":0.197},{"c":5,"v":0.201},{"c":5,"v":0.205},{"c":5,"v":0.208},{"c":5,"v":0.211},{"c":5,"v":0.213},{"c":5,"v":0.215},{"c":5,"v":0.217},{"c":5,"v":0.219},{"c":5,"v":0.221},{"c":5,"v":0.222},{"c":5,"v":0.223},{"c":5,"v":0.224},{"c":5,"v":0.225},{"c":5,"v":0.226},{"c":5,"v":0.227},{"c":5,"v":0.228},{"c":5,"v":0.229},{"c":5,"v":0.23},{"c":5,"v":0.231},{"c":5,"v":0.232},{"c":5,"v":0.233},{"c":5,"v":0.234},{"c":5,"v":0.235},{"c":5,"v":0.236},{"c":5,"v":0.237},{"c":5,"v":0.238},{"c":5,"v":0.239},{"c":5,"v":0.24},{"c":5,"v":0.241},{"c":5,"v":0.242},{"c":5,"v":0.243},{"c":5,"v":0.244},{"c":5,"v":0.245},{"c":5,"v":0.246},{"c":5,"v":0.247},{"c":5,"v":0.248},{"c":5,"v":0.25},{"c":5,"v":0.252},{"c":5,"v":0.254},{"c":5,"v":0.256},{"c":5,"v":0.258},{"c":5,"v":0.261},{"c":5,"v":0.264},{"c":5,"v":0.268},{"c":5,"v":0.272},{"c":5,"v":0.277},{"c":5,"v":0.283},{"c":5,"v":0.29},{"c":5,"v":0.3},{"c":5,"v":0.308},{"c":5,"v":0.313},
{"c":6,"v":0.447},{"c":6,"v":0.43},{"c":6,"v":0.395},{"c":6,"v":0.345},{"c":6,"v":0.343},{"c":6,"v":0.34},{"c":6,"v":0.33},{"c":6,"v":0.31},{"c":6,"v":0.3},{"c":6,"v":0.298},{"c":6,"v":0.295},{"c":6,"v":0.285},{"c":6,"v":0.27},{"c":6,"v":0.258},{"c":6,"v":0.255},{"c":6,"v":0.25},{"c":6,"v":0.24},{"c":6,"v":0.22},{"c":6,"v":0.202},
{"c":7,"v":0.173},{"c":7,"v":0.178},{"c":7,"v":0.184},{"c":7,"v":0.19},{"c":7,"v":0.195},{"c":7,"v":0.199},{"c":7,"v":0.202},{"c":7,"v":0.205},{"c":7,"v":0.207},{"c":7,"v":0.209},{"c":7,"v":0.211},{"c":7,"v":0.212},{"c":7,"v":0.213},{"c":7,"v":0.215},{"c":7,"v":0.217},{"c":7,"v":0.219},{"c":7,"v":0.221},{"c":7,"v":0.223},{"c":7,"v":0.225},{"c":7,"v":0.226},{"c":7,"v":0.227},{"c":7,"v":0.228},{"c":7,"v":0.229},{"c":7,"v":0.23},{"c":7,"v":0.231},{"c":7,"v":0.232},{"c":7,"v":0.234},{"c":7,"v":0.236},{"c":7,"v":0.238},{"c":7,"v":0.24},{"c":7,"v":0.242},{"c":7,"v":0.244},{"c":7,"v":0.246},{"c":7,"v":0.248},{"c":7,"v":0.249},{"c":7,"v":0.25},{"c":7,"v":0.251},{"c":7,"v":0.252},{"c":7,"v":0.253},{"c":7,"v":0.255},{"c":7,"v":0.258},{"c":7,"v":0.261},{"c":7,"v":0.264},{"c":7,"v":0.268},{"c":7,"v":0.272},{"c":7,"v":0.277},{"c":7,"v":0.282},{"c":7,"v":0.288},{"c":7,"v":0.295},{"c":7,"v":0.3},{"c":7,"v":0.306},{"c":7,"v":0.313},
{"c":8,"v":0.415},{"c":8,"v":0.39},{"c":8,"v":0.37},{"c":8,"v":0.34},{"c":8,"v":0.335},{"c":8,"v":0.33},{"c":8,"v":0.325},{"c":8,"v":0.322},{"c":8,"v":0.315},{"c":8,"v":0.31},{"c":8,"v":0.305},{"c":8,"v":0.3},{"c":8,"v":0.295},{"c":8,"v":0.29},{"c":8,"v":0.29},{"c":8,"v":0.285},{"c":8,"v":0.28},{"c":8,"v":0.275},{"c":8,"v":0.27},{"c":8,"v":0.265},{"c":8,"v":0.26},{"c":8,"v":0.255},{"c":8,"v":0.245},{"c":8,"v":0.235},{"c":8,"v":0.225},{"c":8,"v":0.215},{"c":8,"v":0.205},{"c":8,"v":0.202},
{"c":9,"v":0.283},{"c":9,"v":0.27},{"c":9,"v":0.26},{"c":9,"v":0.245},{"c":9,"v":0.24},{"c":9,"v":0.24},{"c":9,"v":0.238},{"c":9,"v":0.237},{"c":9,"v":0.236},{"c":9,"v":0.234},{"c":9,"v":0.232},{"c":9,"v":0.228},{"c":9,"v":0.224},{"c":9,"v":0.222},{"c":9,"v":0.215},{"c":9,"v":0.205},{"c":9,"v":0.19},{"c":9,"v":0.188},
{"c":11,"v":0.277},{"c":11,"v":0.255},{"c":11,"v":0.24},{"c":11,"v":0.235},{"c":11,"v":0.233},{"c":11,"v":0.225},{"c":11,"v":0.215},{"c":11,"v":0.178},
{"c":12,"v":0.32},{"c":12,"v":0.318},{"c":12,"v":0.315},{"c":12,"v":0.312},{"c":12,"v":0.305},{"c":12,"v":0.298},{"c":12,"v":0.29},{"c":12,"v":0.285},{"c":12,"v":0.283},{"c":12,"v":0.28},{"c":12,"v":0.275},{"c":12,"v":0.27},{"c":12,"v":0.267},{"c":12,"v":0.255},{"c":12,"v":0.24}
]
},
"vconcat":[
{"width":1047,"height":666,
"layer":[
{"data":{"values":[{"g":20},{"g":40},{"g":60},{"g":80}]},"mark":{"type":"rule","stroke":"#707070","strokeWidth":2},"encoding":{"x":{"datum":-0.643,"type":"quantitative"},"x2":{"datum":12.69},"y":{"field":"g","type":"quantitative"}}},
{"data":{"name":"bA"},"mark":{"type":"rule","stroke":"#666666","strokeWidth":2.5},"encoding":{"x":{"field":"c","type":"quantitative","scale":{"domain":[-0.643,13.392],"nice":false,"zero":false},"axis":{"title":null,"values":[0,1,2,3,4,5,6,7,8,9,10,11,12,13],"labelExpr":"datum.value == 13 ? 'PET +' : datum.value % 2 == 0 ? 'PET -' : 'PET+'"}},"y":{"field":"mn","type":"quantitative","title":"Aβ42(pg/ml)","scale":{"domain":[0,120],"nice":false,"zero":false},"axis":{"values":[0,20,40,60,80,100,120],"title":"Aβ42(pg/ml)"}},"y2":{"field":"mx"}}},
{"data":{"name":"bA"},"mark":{"type":"bar","size":47,"fill":"#d3d3d3","stroke":"#666666","strokeWidth":3},"encoding":{"x":{"field":"c","type":"quantitative","title":null},"y":{"field":"q1","type":"quantitative"},"y2":{"field":"q3"}}},
{"data":{"name":"pA"},"transform":[{"filter":"datum.c % 2 == 0"},{"bin":{"step":2},"field":"v","as":"bv"},{"window":[{"op":"row_number","as":"r"}],"groupby":["c","bv"]},{"calculate":"datum.c + (datum.r % 2 == 0 ? 1 : -1) * floor(datum.r / 2) * 0.1","as":"xp"}],"mark":{"type":"circle","size":55,"fill":"white","stroke":"#8c8c8c","strokeWidth":1.4,"opacity":1},"encoding":{"x":{"field":"xp","type":"quantitative","title":null},"y":{"field":"v","type":"quantitative"}}},
{"data":{"name":"pA"},"transform":[{"filter":"datum.c % 2 == 1"},{"bin":{"step":2},"field":"v","as":"bv"},{"window":[{"op":"row_number","as":"r"}],"groupby":["c","bv"]},{"calculate":"datum.c + (datum.r % 2 == 0 ? 1 : -1) * floor(datum.r / 2) * 0.1","as":"xp"}],"mark":{"type":"circle","size":60,"fill":"#7d7d7d","stroke":"#707070","strokeWidth":1,"opacity":1},"encoding":{"x":{"field":"xp","type":"quantitative","title":null},"y":{"field":"v","type":"quantitative"}}},
{"data":{"name":"bA"},"mark":{"type":"tick","orient":"horizontal","size":47,"thickness":3,"color":"#666666","opacity":1},"encoding":{"x":{"field":"c","type":"quantitative","title":null},"y":{"field":"md","type":"quantitative"}}},
{"data":{"name":"bA"},"mark":{"type":"tick","orient":"horizontal","size":22,"thickness":3,"color":"#666666","opacity":1},"encoding":{"x":{"field":"c","type":"quantitative","title":null},"y":{"field":"mn","type":"quantitative"}}},
{"data":{"name":"bA"},"mark":{"type":"tick","orient":"horizontal","size":22,"thickness":3,"color":"#666666","opacity":1},"encoding":{"x":{"field":"c","type":"quantitative","title":null},"y":{"field":"mx","type":"quantitative"}}},
{"data":{"name":"nA"},"mark":{"type":"rule","stroke":"#666666","strokeWidth":1.5},"encoding":{"x":{"field":"a","type":"quantitative","title":null},"x2":{"field":"b"},"y":{"datum":113.9}}},
{"data":{"name":"nA"},"mark":{"type":"rule","stroke":"#666666","strokeWidth":1.5},"encoding":{"x":{"field":"a","type":"quantitative","title":null},"y":{"datum":113.9},"y2":{"datum":112.1}}},
{"data":{"name":"nA"},"mark":{"type":"rule","stroke":"#666666","strokeWidth":1.5},"encoding":{"x":{"field":"b","type":"quantitative","title":null},"y":{"datum":113.9},"y2":{"datum":112.1}}},
{"data":{"name":"nA"},"mark":{"type":"text","font":"Noto Sans","fontSize":21,"fontWeight":"bold","color":"#111111","baseline":"alphabetic","dx":40},"encoding":{"x":{"field":"a","type":"quantitative","title":null},"y":{"datum":115.5},"text":{"field":"t"}}},
{"data":{"name":"grp"},"mark":{"type":"text","font":"Liberation Serif","fontSize":24,"fontWeight":"bold","color":"black","baseline":"alphabetic","dx":37,"dy":68},"encoding":{"x":{"field":"a","type":"quantitative","title":null},"y":{"datum":0},"text":{"field":"g"}}},
{"data":{"values":[{"l":"A"}]},"mark":{"type":"text","font":"Liberation Sans","fontSize":54,"fontWeight":"bold","color":"black","align":"left","baseline":"alphabetic"},"encoding":{"x":{"datum":-2.372,"type":"quantitative"},"y":{"datum":120.36},"text":{"field":"l"}}}
]},
{"width":1047,"height":660,
"layer":[
{"data":{"values":[{"g":100},{"g":200},{"g":300},{"g":400}]},"mark":{"type":"rule","stroke":"#707070","strokeWidth":2},"encoding":{"x":{"datum":-0.643,"type":"quantitative"},"x2":{"datum":12.69},"y":{"field":"g","type":"quantitative"}}},
{"data":{"name":"bB"},"mark":{"type":"rule","stroke":"#666666","strokeWidth":2.5},"encoding":{"x":{"field":"c","type":"quantitative","scale":{"domain":[-0.643,13.392],"nice":false,"zero":false},"axis":{"title":null,"values":[0,1,2,3,4,5,6,7,8,9,10,11,12,13],"labelExpr":"datum.value == 13 ? 'PET +' : datum.value % 2 == 0 ? 'PET -' : 'PET+'"}},"y":{"field":"mn","type":"quantitative","title":"Aβ40(pg/ml)","scale":{"domain":[0,400],"nice":false,"zero":false},"axis":{"values":[0,100,200,300,400],"title":"Aβ40(pg/ml)"}},"y2":{"field":"mx"}}},
{"data":{"name":"bB"},"mark":{"type":"bar","size":47,"fill":"#d3d3d3","stroke":"#666666","strokeWidth":3},"encoding":{"x":{"field":"c","type":"quantitative","title":null},"y":{"field":"q1","type":"quantitative"},"y2":{"field":"q3"}}},
{"data":{"name":"pB"},"transform":[{"filter":"datum.c % 2 == 0"},{"bin":{"step":6.7},"field":"v","as":"bv"},{"window":[{"op":"row_number","as":"r"}],"groupby":["c","bv"]},{"calculate":"datum.c + (datum.r % 2 == 0 ? 1 : -1) * floor(datum.r / 2) * 0.1","as":"xp"}],"mark":{"type":"circle","size":55,"fill":"white","stroke":"#8c8c8c","strokeWidth":1.4,"opacity":1},"encoding":{"x":{"field":"xp","type":"quantitative","title":null},"y":{"field":"v","type":"quantitative"}}},
{"data":{"name":"pB"},"transform":[{"filter":"datum.c % 2 == 1"},{"bin":{"step":6.7},"field":"v","as":"bv"},{"window":[{"op":"row_number","as":"r"}],"groupby":["c","bv"]},{"calculate":"datum.c + (datum.r % 2 == 0 ? 1 : -1) * floor(datum.r / 2) * 0.1","as":"xp"}],"mark":{"type":"circle","size":60,"fill":"#7d7d7d","stroke":"#707070","strokeWidth":1,"opacity":1},"encoding":{"x":{"field":"xp","type":"quantitative","title":null},"y":{"field":"v","type":"quantitative"}}},
{"data":{"name":"bB"},"mark":{"type":"tick","orient":"horizontal","size":47,"thickness":3,"color":"#666666","opacity":1},"encoding":{"x":{"field":"c","type":"quantitative","title":null},"y":{"field":"md","type":"quantitative"}}},
{"data":{"name":"bB"},"mark":{"type":"tick","orient":"horizontal","size":22,"thickness":3,"color":"#666666","opacity":1},"encoding":{"x":{"field":"c","type":"quantitative","title":null},"y":{"field":"mn","type":"quantitative"}}},
{"data":{"name":"bB"},"mark":{"type":"tick","orient":"horizontal","size":22,"thickness":3,"color":"#666666","opacity":1},"encoding":{"x":{"field":"c","type":"quantitative","title":null},"y":{"field":"mx","type":"quantitative"}}},
{"data":{"name":"nB"},"mark":{"type":"rule","stroke":"#666666","strokeWidth":1.5},"encoding":{"x":{"field":"a","type":"quantitative","title":null},"x2":{"field":"b"},"y":{"datum":377.4}}},
{"data":{"name":"nB"},"mark":{"type":"rule","stroke":"#666666","strokeWidth":1.5},"encoding":{"x":{"field":"a","type":"quantitative","title":null},"y":{"datum":377.4},"y2":{"datum":371.3}}},
{"data":{"name":"nB"},"mark":{"type":"rule","stroke":"#666666","strokeWidth":1.5},"encoding":{"x":{"field":"b","type":"quantitative","title":null},"y":{"datum":377.4},"y2":{"datum":371.3}}},
{"data":{"name":"nB"},"mark":{"type":"text","font":"Noto Sans","fontSize":21,"fontWeight":"bold","color":"#111111","baseline":"alphabetic","dx":40},"encoding":{"x":{"field":"a","type":"quantitative","title":null},"y":{"datum":381.4},"text":{"field":"t"}}},
{"data":{"name":"grp"},"mark":{"type":"text","font":"Liberation Serif","fontSize":24,"fontWeight":"bold","color":"black","baseline":"alphabetic","dx":37,"dy":68},"encoding":{"x":{"field":"a","type":"quantitative","title":null},"y":{"datum":0},"text":{"field":"g"}}},
{"data":{"values":[{"l":"B"}]},"mark":{"type":"text","font":"Liberation Sans","fontSize":54,"fontWeight":"bold","color":"black","align":"left","baseline":"alphabetic"},"encoding":{"x":{"datum":-2.332,"type":"quantitative"},"y":{"datum":413.9},"text":{"field":"l"}}}
]},
{"width":1047,"height":655,
"layer":[
{"data":{"values":[{"g":0.2},{"g":0.3},{"g":0.4},{"g":0.5}]},"mark":{"type":"rule","stroke":"#707070","strokeWidth":2},"encoding":{"x":{"datum":-0.643,"type":"quantitative"},"x2":{"datum":12.69},"y":{"field":"g","type":"quantitative"}}},
{"data":{"name":"bC"},"mark":{"type":"rule","stroke":"#666666","strokeWidth":2.5},"encoding":{"x":{"field":"c","type":"quantitative","scale":{"domain":[-0.643,13.392],"nice":false,"zero":false},"axis":{"title":null,"values":[0,1,2,3,4,5,6,7,8,9,10,11,12,13],"labelExpr":"datum.value == 13 ? 'PET +' : datum.value % 2 == 0 ? 'PET -' : 'PET+'"}},"y":{"field":"mn","type":"quantitative","title":"Aβ42/Aβ40(pg/ml)","scale":{"domain":[0.1,0.5],"nice":false,"zero":false},"axis":{"values":[0.1,0.2,0.3,0.4,0.5],"format":".1f","title":"Aβ42/Aβ40(pg/ml)"}},"y2":{"field":"mx"}}},
{"data":{"name":"bC"},"mark":{"type":"bar","size":47,"fill":"#d3d3d3","stroke":"#666666","strokeWidth":3},"encoding":{"x":{"field":"c","type":"quantitative","title":null},"y":{"field":"q1","type":"quantitative"},"y2":{"field":"q3"}}},
{"data":{"name":"pC"},"transform":[{"filter":"datum.c % 2 == 0"},{"bin":{"step":0.0067},"field":"v","as":"bv"},{"window":[{"op":"row_number","as":"r"}],"groupby":["c","bv"]},{"calculate":"datum.c + (datum.r % 2 == 0 ? 1 : -1) * floor(datum.r / 2) * 0.1","as":"xp"}],"mark":{"type":"circle","size":55,"fill":"white","stroke":"#8c8c8c","strokeWidth":1.4,"opacity":1},"encoding":{"x":{"field":"xp","type":"quantitative","title":null},"y":{"field":"v","type":"quantitative"}}},
{"data":{"name":"pC"},"transform":[{"filter":"datum.c % 2 == 1"},{"bin":{"step":0.0067},"field":"v","as":"bv"},{"window":[{"op":"row_number","as":"r"}],"groupby":["c","bv"]},{"calculate":"datum.c + (datum.r % 2 == 0 ? 1 : -1) * floor(datum.r / 2) * 0.1","as":"xp"}],"mark":{"type":"circle","size":60,"fill":"#7d7d7d","stroke":"#707070","strokeWidth":1,"opacity":1},"encoding":{"x":{"field":"xp","type":"quantitative","title":null},"y":{"field":"v","type":"quantitative"}}},
{"data":{"name":"bC"},"mark":{"type":"tick","orient":"horizontal","size":47,"thickness":3,"color":"#666666","opacity":1},"encoding":{"x":{"field":"c","type":"quantitative","title":null},"y":{"field":"md","type":"quantitative"}}},
{"data":{"name":"bC"},"mark":{"type":"tick","orient":"horizontal","size":22,"thickness":3,"color":"#666666","opacity":1},"encoding":{"x":{"field":"c","type":"quantitative","title":null},"y":{"field":"mn","type":"quantitative"}}},
{"data":{"name":"bC"},"mark":{"type":"tick","orient":"horizontal","size":22,"thickness":3,"color":"#666666","opacity":1},"encoding":{"x":{"field":"c","type":"quantitative","title":null},"y":{"field":"mx","type":"quantitative"}}},
{"data":{"name":"nC"},"mark":{"type":"rule","stroke":"#666666","strokeWidth":1.5},"encoding":{"x":{"field":"a","type":"quantitative","title":null},"x2":{"field":"b"},"y":{"datum":0.4737}}},
{"data":{"name":"nC"},"mark":{"type":"rule","stroke":"#666666","strokeWidth":1.5},"encoding":{"x":{"field":"a","type":"quantitative","title":null},"y":{"datum":0.4737},"y2":{"datum":0.4686}}},
{"data":{"name":"nC"},"mark":{"type":"rule","stroke":"#666666","strokeWidth":1.5},"encoding":{"x":{"field":"b","type":"quantitative","title":null},"y":{"datum":0.4737},"y2":{"datum":0.4686}}},
{"data":{"name":"nC"},"mark":{"type":"text","font":"Noto Sans","fontSize":20,"fontWeight":"bold","color":"#111111","baseline":"alphabetic","dx":40},"encoding":{"x":{"field":"a","type":"quantitative","title":null},"y":{"datum":0.4798},"text":{"field":"t"}}},
{"data":{"name":"grp"},"mark":{"type":"text","font":"Liberation Serif","fontSize":24,"fontWeight":"bold","color":"black","baseline":"alphabetic","dx":37,"dy":68},"encoding":{"x":{"field":"a","type":"quantitative","title":null},"y":{"datum":0.1},"text":{"field":"g"}}},
{"data":{"values":[{"l":"C"}]},"mark":{"type":"text","font":"Liberation Sans","fontSize":54,"fontWeight":"bold","color":"black","align":"left","baseline":"alphabetic"},"encoding":{"x":{"datum":-2.359,"type":"quantitative"},"y":{"datum":0.5122},"text":{"field":"l"}}}
]}
]
}
